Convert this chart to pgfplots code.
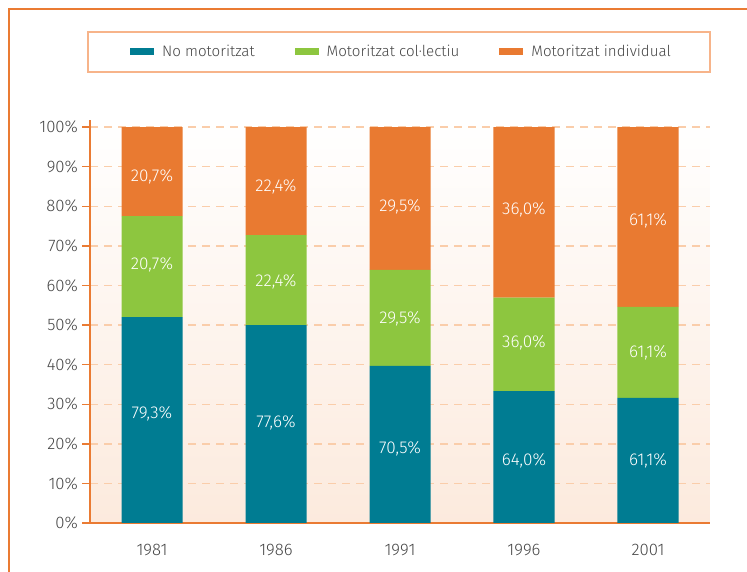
\documentclass[border=0pt]{standalone}
\usepackage{pgfplots}
\pgfplotsset{compat=1.18}
\usepackage{fontspec}
\setmainfont{Fira Sans Light}

\definecolor{cteal}{RGB}{0,124,146}
\definecolor{cgreen}{RGB}{141,198,63}
\definecolor{corange}{RGB}{233,122,49}
\definecolor{frameor}{RGB}{234,123,51}
\definecolor{legborder}{RGB}{247,180,138}
\definecolor{gridor}{RGB}{250,205,170}
\definecolor{bgpeach}{RGB}{252,234,221}
\definecolor{txt}{RGB}{70,70,70}

\tikzset{barlbl/.style={text=white, font=\fontsize{8.6}{10}\selectfont}}

\begin{document}
\begin{tikzpicture}
\path[use as bounding box] (0bp,0bp) rectangle (373.5bp,286bp);
% outer frame (top and left only)
\draw[frameor, line width=0.7bp] (4.5bp,0bp) -- (4.5bp,281.5bp) -- (373.5bp,281.5bp);
% legend box
\draw[legborder, line width=1.1bp, fill=white] (44bp,270bp) rectangle (355bp,250bp);

\begin{axis}[
  at={(45bp,24.5bp)}, anchor=south west,
  scale only axis, width=310bp, height=201.5bp,
  xmin=-0.5, xmax=4.5, ymin=0, ymax=101.77,
  ybar stacked, bar width=30.5bp,
  axis x line=bottom, axis y line=left,
  axis line style={frameor, line width=0.7bp, -},
  xtick={0,1,2,3,4},
  xticklabels={1981,1986,1991,1996,2001},
  minor xtick={-0.5,0.5,1.5,2.5,3.5,4.5},
  xtick style={draw=none},
  every minor tick/.append style={frameor, line width=0.7bp},
  ytick={0,10,...,100},
  yticklabels={0\%,10\%,20\%,30\%,40\%,50\%,60\%,70\%,80\%,90\%,100\%},
  ytick style={frameor, line width=0.7bp},
  tick align=outside,
  major tick length=4bp, minor tick length=4.5bp,
  ymajorgrids,
  y grid style={gridor, line width=0.7bp, dash pattern=on 4bp off 3bp},
  axis background/.style={top color=white, bottom color=bgpeach},
  tick label style={font=\fontsize{8.4}{10}\selectfont, text=txt},
  xticklabel style={yshift=-3bp},
  yticklabel style={xshift=1.5bp},
  /pgf/number format/assume math mode=true,
  legend columns=3,
  legend style={at={(0.504,1.169)}, anchor=center, draw=none, fill=none,
    font=\fontsize{7.6}{10}\selectfont, text=txt,
    /tikz/every odd column/.append style={column sep=2bp},
    /tikz/every even column/.append style={column sep=18bp}},
  legend image code/.code={\fill[#1] (0bp,-1.75bp) rectangle (12bp,1.75bp);},
]
\addplot[fill=cteal, draw=none] coordinates {(0,52.0) (1,50.0) (2,39.7) (3,33.3) (4,31.6)};
\addplot[fill=cgreen, draw=none] coordinates {(0,25.5) (1,22.7) (2,24.2) (3,23.6) (4,23.0)};
\addplot[fill=corange, draw=none] coordinates {(0,22.5) (1,27.3) (2,36.1) (3,43.1) (4,45.4)};
\legend{No motoritzat, Motoritzat col·lectiu, Motoritzat individual}

% label anchors (segment centres), labels drawn above the bars after the axis
\coordinate (a1) at (axis cs:0,27.5);
\coordinate (b1) at (axis cs:0,65.2);
\coordinate (c1) at (axis cs:0,87.4);
\coordinate (a2) at (axis cs:1,25.3);
\coordinate (b2) at (axis cs:1,60.9);
\coordinate (c2) at (axis cs:1,84.9);
\coordinate (a3) at (axis cs:2,18.8);
\coordinate (b3) at (axis cs:2,51.5);
\coordinate (c3) at (axis cs:2,79.9);
\coordinate (a4) at (axis cs:3,15.7);
\coordinate (b4) at (axis cs:3,45.4);
\coordinate (c4) at (axis cs:3,79.0);
\coordinate (a5) at (axis cs:4,15.7);
\coordinate (b5) at (axis cs:4,43.0);
\coordinate (c5) at (axis cs:4,76.3);
\end{axis}

\node[barlbl] at (a1) {79,3\%};
\node[barlbl] at (b1) {20,7\%};
\node[barlbl] at (c1) {20,7\%};
\node[barlbl] at (a2) {77,6\%};
\node[barlbl] at (b2) {22,4\%};
\node[barlbl] at (c2) {22,4\%};
\node[barlbl] at (a3) {70,5\%};
\node[barlbl] at (b3) {29,5\%};
\node[barlbl] at (c3) {29,5\%};
\node[barlbl] at (a4) {64,0\%};
\node[barlbl] at (b4) {36,0\%};
\node[barlbl] at (c4) {36,0\%};
\node[barlbl] at (a5) {61,1\%};
\node[barlbl] at (b5) {61,1\%};
\node[barlbl] at (c5) {61,1\%};
\end{tikzpicture}
\end{document}
